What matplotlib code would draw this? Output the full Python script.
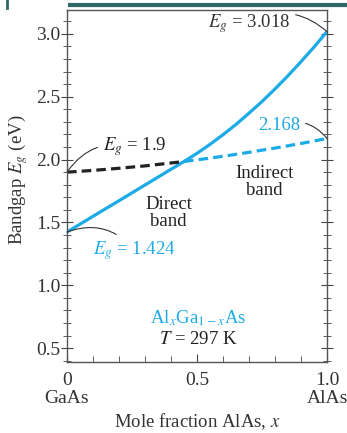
import matplotlib
matplotlib.use("Agg")
import matplotlib.pyplot as plt
from matplotlib.ticker import MultipleLocator

plt.rcParams.update({'font.family': 'Liberation Serif', 'mathtext.fontset': 'stix',
                     'font.size': 13.5})

blue = '#1cabe6'
teal = '#2f6866'

# values
x_dir = [0, 0.1, 0.2, 0.3, 0.4, 0.45, 0.5, 0.55, 0.6, 0.65, 0.7, 0.75, 0.8, 0.85, 0.9, 0.95, 1.0]
eg_dir = [1.424, 1.549, 1.673, 1.798, 1.923, 1.985, 2.050, 2.121, 2.198, 2.280, 2.369,
          2.462, 2.562, 2.667, 2.779, 2.895, 3.018]
x_ind_lo = [0, 0.1, 0.2, 0.3, 0.4, 0.45]
eg_ind_lo = [1.900, 1.914, 1.931, 1.950, 1.973, 1.985]
x_ind_hi = [0.45, 0.5, 0.6, 0.7, 0.8, 0.9, 1.0]
eg_ind_hi = [1.985, 1.998, 2.026, 2.058, 2.092, 2.128, 2.168]

fig = plt.figure(figsize=(3.47, 4.33), dpi=100)
ax = fig.add_axes([67/347, 1-362/433, 260/347, 352/433])

ax.plot(x_dir, eg_dir, '-', color=blue, lw=2.3, solid_capstyle='butt')
ax.plot(x_ind_lo, eg_ind_lo, '--', color='#222222', lw=2.3, dashes=(3, 1.6))
ax.plot(x_ind_hi, eg_ind_hi, '--', color=blue, lw=2.3, dashes=(3, 1.6))

ax.set_xlim(0, 1.0)
ax.set_ylim(0.39, 3.19)
ax.xaxis.set_minor_locator(MultipleLocator(0.1))
ax.yaxis.set_minor_locator(MultipleLocator(0.1))
ax.set_xticks([0, 0.5, 1.0])
ax.set_xticklabels(['0\nGaAs', '0.5', '1.0\nAlAs'], linespacing=1.12, fontsize=14)
yt = [0.5, 1.0, 1.5, 2.0, 2.5, 3.0]
ax.set_yticks(yt)
ax.set_yticklabels(['%.1f' % v for v in yt], fontsize=14)
ax.set_ylim(0.39, 3.19)
ax.tick_params(axis='y', which='both', direction='inout', right=True, colors='#444444',
               labelcolor='#333333', pad=0)
ax.tick_params(axis='y', which='major', length=9)
ax.tick_params(axis='y', which='minor', length=6)
ax.tick_params(axis='x', which='both', direction='in', colors='#444444', labelcolor='#333333',
               pad=7)
ax.tick_params(axis='x', which='major', length=6)
ax.tick_params(axis='x', which='minor', length=4)
for s in ax.spines.values():
    s.set_color('#555555')
    s.set_linewidth(1.0)

fig.text(18/347, 1-180/433, r'Bandgap $E_g$ (eV)', color='#333333', rotation=90,
         ha='center', va='center')
fig.text(197/347, 1-422/433, r'Mole fraction AlAs, $x$', color='#333333',
         ha='center', va='center')

ax.annotate(r'$E_g$ = 3.018', xy=(1.0, 3.018), xytext=(0.858, 3.085), color='#333333',
            ha='right', va='center',
            arrowprops=dict(arrowstyle='-', color='#333333', lw=0.8,
                            connectionstyle="arc3,rad=-0.35", shrinkA=2, shrinkB=0))
ax.annotate('2.168', xy=(1.0, 2.168), xytext=(0.896, 2.275), color=blue,
            ha='right', va='center',
            arrowprops=dict(arrowstyle='-', color='#333333', lw=0.8,
                            connectionstyle="arc3,rad=-0.35", shrinkA=2, shrinkB=0))
ax.annotate(r'$E_g$ = 1.9', xy=(0.0, 1.9), xytext=(0.138, 2.10), color='#222222',
            ha='left', va='center',
            arrowprops=dict(arrowstyle='-', color='#333333', lw=0.8,
                            connectionstyle="arc3,rad=0.35", shrinkA=2, shrinkB=0))
ax.annotate(r'$E_g$ = 1.424', xy=(0.0, 1.424), xytext=(0.10, 1.28), color=blue,
            ha='left', va='center',
            arrowprops=dict(arrowstyle='-', color='#333333', lw=0.8,
                            connectionstyle="arc3,rad=0.35", shrinkA=2, shrinkB=0))

ax.text(0.39, 1.575, 'Direct\nband', color='#222222', ha='center', va='center',
        linespacing=1.0)
ax.text(0.76, 1.82, 'Indirect\nband', color='#222222', ha='center', va='center',
        linespacing=1.0)
ax.text(0.504, 0.74, r'Al$_x$Ga$_{1-x}$As', color=blue, ha='center', va='center')
ax.text(0.504, 0.565, r'$T$ = 297 K', color='#222222', ha='center', va='center')

# slide decoration at top
fig.add_artist(plt.Line2D([70/347, 1.0], [1-5/433, 1-5/433], color=teal, lw=3))
fig.add_artist(plt.Line2D([7/347, 7/347], [1.0, 1-8/433], color=teal, lw=2))

fig.savefig('out.png', dpi=100)
